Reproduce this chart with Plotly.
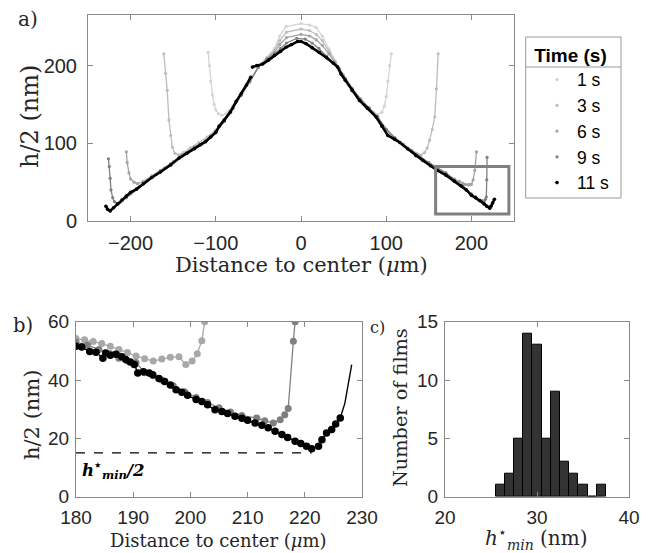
import plotly.graph_objects as go

# ---------------- Panel a data: film profiles h/2 (nm) vs distance to center (um)
times = ["1 s", "3 s", "6 s", "9 s", "11 s"]
colors = ["#d4d4d4", "#bdbdbd", "#a3a3a3", "#808080", "#000000"]

x_1s = [-109, -107.5, -106, -104, -102, -100, -97, -93, -88, -80, -70, -60, -50, -40, -31, -25,
        -17.6, 0, 10, 17.6, 25, 33, 40, 50, 60, 70, 78, 85, 90, 95, 98, 100, 102, 104, 106]
h_1s = [217, 200, 180, 162, 150, 143, 138, 136, 138, 148, 162, 178, 198, 210, 222, 238,
        250, 254, 252, 249, 238, 221, 206, 185, 168, 155, 146, 140, 137, 140, 148, 160, 180, 200, 215]

x_3s = [-161, -159, -157, -155, -153, -151, -148, -144, -138, -130, -120, -110, -100, -90, -80, -70,
        -60, -50, -40, -31, -25, -17, 0, 10, 18, 25, 33, 40, 50, 60, 70, 80, 90, 100, 110, 120,
        130, 136, 141, 145, 148, 151, 154, 157, 159, 161]
h_3s = [215, 190, 168, 130, 110, 95, 87, 85, 88, 94, 101, 108, 117, 130, 145, 162,
        180, 198, 210, 220, 232, 243, 247, 245, 240, 232, 218, 205, 188, 171, 157, 145, 133, 118, 107, 99,
        91, 87, 85, 88, 94, 104, 118, 134, 170, 215]

x_6s = [-205, -204, -202, -200, -196, -192, -185, -175, -165, -153, -140, -125, -112, -100, -90, -80,
        -70, -60, -50, -40, -31, -25, -17, 0, 10, 18, 25, 33, 40, 50, 60, 70, 80, 90, 100, 110,
        120, 130, 140, 150, 160, 170, 180, 186, 190, 193, 196, 198, 200, 202, 204, 206]
h_6s = [89, 75, 62, 54, 50, 48, 51, 58, 65, 74, 85, 95, 103, 115, 128, 145,
        162, 180, 198, 209, 217, 227, 236, 240, 238, 233, 226, 215, 204, 186, 170, 157, 146, 134, 118, 107,
        98, 90, 82, 75, 69, 62, 54, 51, 48.5, 47, 46.5, 47, 47, 53, 65, 89]

x_9s = [-226, -225, -224, -223, -221, -219, -216, -212, -205, -200, -190, -180, -170, -160, -150, -140,
        -125, -112, -100, -90, -80, -70, -60, -50, -40, -31, -24, -17, -5, 5, 13, 21, 30, 38, 45, 52,
        60, 70, 80, 90, 100, 110, 120, 130, 140, 150, 160, 170, 180, 190, 200, 205, 210, 213, 215,
        216.5, 217.5, 218, 218.4]
h_9s = [80, 70, 55, 40, 30, 25, 22.7, 24, 30, 35, 44, 52, 60, 68, 76, 83,
        95, 103, 115, 128, 145, 162, 180, 198, 208, 215, 222, 229, 235, 234, 229, 222, 212, 204, 196, 183,
        170, 156, 145, 134, 118, 107, 98, 90, 82, 75, 68, 62, 53, 45, 35, 31, 27, 26, 26,
        28, 31, 53, 82]

x_11s = [-229, -227, -224, -220, -215, -210, -205, -200, -193, -185, -175, -165, -153, -143, -134, -125,
         -118, -112, -106, -100, -96, -90, -83, -76, -70, -64, -59, None, -57, -52, -45, -38, -31, -24,
         -17.6, -11, -4, 0, 6, 13, 21.5, 30, 38, 43, 47, 52, 60, 68.6, 78, 88, 95, 102, 110, 116,
         125, 135, 143, 152, 160, 170, 180, 188, 194, 200, 205, 210, 215, 218, 221.5, 223, 225, 227]
h_11s = [19, 15, 13, 17, 22, 27, 32, 37, 41, 48, 56, 63, 72, 81, 87, 93,
         98, 102, 108, 114, 122, 130, 140, 154, 164, 175, 185, None, 198, 200, 202, 207, 213, 218,
         223.5, 227, 231, 231, 228, 223, 217, 210, 203, 198, 189, 181, 168, 155, 145, 134, 122, 110, 105, 101,
         93, 84, 78, 71, 65, 59, 51, 45, 40, 33, 30, 26, 22, 19, 16.5, 19, 23, 28]

profiles_x = [x_1s, x_3s, x_6s, x_9s, x_11s]
profiles_h = [h_1s, h_3s, h_6s, h_9s, h_11s]

# zoom window drawn in panel a
inset_x = [158, 244]
inset_y = [9, 70]

# ---------------- Panel b data: zoom near the rim
bx_6s = [180, 181.5, 183, 184.5, 186, 187.5, 189, 190.5, 192, 193.5, 195, 196.5, 198, 199.2, 200.3,
         201.2, 202, 202.5]
bh_6s = [54.2, 53.8, 53.2, 52.5, 51.6, 50.5, 49.4, 48.2, 47.3, 46.5, 47.2, 47.8, 48.0, 45.3, 46.5,
         49.0, 53.5, 60.0]

bx_9s = [180, 182, 184, 186, 187.5, 189, 190.5, 192, 193.5, 195, 197, 199, 201, 203, 205, 207, 209,
         211.6, 213, 214.5, 215.7, 216.5, 217.1, 218, 218.3]
bh_9s = [53, 52, 50.5, 49, 47.5, 46.5, 46, 42.5, 41.5, 40, 38, 36, 34, 32.3, 30.5, 29, 27.8,
         27, 26, 25.3, 26.4, 28.1, 30.2, 53.3, 60]

bx_11s = [180, 181, 182.4, 183.5, 184.7, 185.2, 186, 187, 188, 188.7, 189.5, 190.2, 190.8, 191.8, 192.8,
          193.4, 194.5, 195.5, 196.5, 197.5, 198.5, 199.5, 201, 202, 203, 204.3, 205.5, 206.5, 207.8,
          209, 210, 211.3, 212.5, 213.6, 214.8, 216, 217, 218.3, 219.3, 220.3, 221.2, 222.4, 223,
          223.8, 224.7, 225.4, 226.2, 227, 228.2]
bh_11s = [51.6, 51.3, 49.8, 49.5, 47.5, 49.3, 48.5, 48.8, 48, 47, 46.2, 45.3, 42.4, 42.8, 42.4,
          41.8, 40.5, 39.5, 38.3, 36.7, 35.8, 34.8, 33.3, 32.6, 31.5, 29.8, 29.2, 28.5, 27.6,
          26.9, 26.2, 25.3, 24.5, 23.6, 22.4, 21.3, 20.3, 19.0, 18.2, 17.3, 16.4, 17.3, 19.5,
          21.8, 23.0, 24.9, 27.0, 32, 45.3]

hmin_half = 15
hmin_x = [180, 221.2]

# ---------------- Panel c data: histogram of h*_min
hist_centers = [26, 27, 28, 29, 30, 31, 32, 33, 34, 35, 36, 37]
hist_counts = [1, 2, 5, 14, 13, 5, 9, 3, 2, 1, 0, 1]

# ---------------- Figure geometry (page has an 8 px body margin)
OFF = 8
W, H = 650 - OFF, 553 - OFF


def px(x):
    return (x - OFF) / W


def py(y):
    return 1 - (y - OFF) / H


TICK_A = dict(family="Liberation Sans, Arial", size=20, color="#262626")
TICK_B = dict(family="Liberation Sans, Arial", size=19, color="#262626")
SERIF = "DejaVu Serif, serif"
AXCOL = "#8a8a8a"

fig = go.Figure()

# Panel a
for name, col, xs, hs in zip(times, colors, profiles_x, profiles_h):
    lw = 2.6 if col == "#000000" else 1.3
    fig.add_trace(go.Scatter(x=xs, y=hs, mode="lines", line=dict(color=col, width=lw),
                             showlegend=False, connectgaps=False,
                             xaxis="x", yaxis="y", hoverinfo="skip"))
    fig.add_trace(go.Scatter(x=xs, y=hs, mode="markers", name=name,
                             marker=dict(color=col, size=3.2 if col != "#000000" else 3.6),
                             xaxis="x", yaxis="y"))

fig.add_shape(type="rect", xref="x", yref="y", x0=inset_x[0], x1=inset_x[1], y0=inset_y[0], y1=inset_y[1],
              line=dict(color="#808080", width=3))

# Panel b
fig.add_trace(go.Scatter(x=bx_6s, y=bh_6s, mode="lines+markers", line=dict(color="#a8a8a8", width=1.3),
                         marker=dict(color="#a8a8a8", size=7), showlegend=False, xaxis="x2", yaxis="y2"))
fig.add_trace(go.Scatter(x=bx_9s, y=bh_9s, mode="lines+markers", line=dict(color="#7f7f7f", width=1.3),
                         marker=dict(color="#7f7f7f", size=7), showlegend=False, xaxis="x2", yaxis="y2"))
fig.add_trace(go.Scatter(x=bx_11s, y=bh_11s, mode="lines", line=dict(color="#000000", width=1.4),
                         showlegend=False, xaxis="x2", yaxis="y2"))
fig.add_trace(go.Scatter(x=bx_11s[:-2], y=bh_11s[:-2], mode="markers",
                         marker=dict(color="#000000", size=7.5), showlegend=False, xaxis="x2", yaxis="y2"))
fig.add_trace(go.Scatter(x=hmin_x, y=[hmin_half, hmin_half], mode="lines",
                         line=dict(color="#000000", width=1.3, dash="dash"), showlegend=False,
                         xaxis="x2", yaxis="y2"))

# Panel c
fig.add_trace(go.Bar(x=hist_centers, y=hist_counts, width=1, marker=dict(color="#333333",
                     line=dict(color="#000000", width=1)), showlegend=False, xaxis="x3", yaxis="y3"))

ax_common = dict(showgrid=False, zeroline=False, showline=True, linecolor=AXCOL, linewidth=1,
                 mirror="ticks", ticks="inside", ticklen=5, tickcolor=AXCOL, automargin=False)

fig.update_layout(
    width=W, height=H, margin=dict(l=0, r=0, t=0, b=0, autoexpand=False),
    paper_bgcolor="white", plot_bgcolor="white",
    xaxis=dict(domain=[px(88), px(514)], range=[-250, 250], tickvals=[-200, -100, 0, 100, 200],
               anchor="y", ticklabelstandoff=4, tickfont=TICK_A, **ax_common),
    yaxis=dict(domain=[py(221), py(15)], range=[0, 265], tickvals=[0, 100, 200], anchor="x",
               ticklabelstandoff=6, tickfont=TICK_A, **ax_common),
    xaxis2=dict(domain=[px(76), px(362)], range=[180, 230], tickvals=[180, 190, 200, 210, 220, 230],
                anchor="y2", ticklabelstandoff=3, tickfont=TICK_B, **ax_common),
    yaxis2=dict(domain=[py(496.7), py(321.7)], range=[0, 60], tickvals=[0, 20, 40, 60], anchor="x2",
                ticklabelstandoff=2, tickfont=TICK_B, **ax_common),
    xaxis3=dict(domain=[px(445), px(629)], range=[20, 40], tickvals=[20, 30, 40], anchor="y3",
                ticklabelstandoff=3, tickfont=TICK_B, **ax_common),
    yaxis3=dict(domain=[py(496.7), py(321.7)], range=[0, 15], tickvals=[0, 5, 10, 15], anchor="x3",
                ticklabelstandoff=2, tickfont=TICK_B, **ax_common),
    legend=dict(x=px(526), y=py(37), xanchor="left", yanchor="top", bgcolor="rgba(0,0,0,0)",
                borderwidth=0, tracegroupgap=0,
                font=dict(family="Liberation Sans, Arial", size=17.5, color="#000000"),
                title=dict(text="<b>Time (s)</b>", side="top center",
                           font=dict(family="Liberation Sans, Arial", size=19, color="#000000")),
                indentation=11),
    bargap=0,
)

# legend frame and separator under the legend title
fig.add_shape(type="rect", xref="paper", yref="paper", x0=px(525.7), x1=px(621), y0=py(198), y1=py(37),
              line=dict(color="#999999", width=1), fillcolor="white", layer="below")
fig.add_shape(type="line", xref="paper", yref="paper", x0=px(525.7), x1=px(621), y0=py(67), y1=py(67),
              line=dict(color="#999999", width=1))

ann = []


def label(text, x, y, size, angle=0, family=SERIF, xanchor="center", color="#262626"):
    ann.append(dict(text=text, x=px(x), y=py(y), xref="paper", yref="paper", showarrow=False,
                    textangle=angle, xanchor=xanchor, yanchor="middle",
                    font=dict(family=family, size=size, color=color)))


label("a)", 28, 19, 20)
label("b)", 23, 325, 19.5)
label("c)", 378, 327, 16)
label("Distance to center (<i>μ</i>m)", 301, 265, 21)
label("h/2 (nm)", 30, 116, 24, angle=-90)
label("Distance to center (<i>μ</i>m)", 218, 540, 18)
label("h/2 (nm)", 32, 415, 21, angle=-90)
label("Number of films", 400, 408, 19.3, angle=-90)
label("<i>h</i><sup>⋆</sup><sub><i>min</i></sub> (nm)", 536, 538, 20)
label("<b><i>h</i><sup>⋆</sup><sub><i>min</i></sub><i>/2</i></b>", 80, 470, 16.5, xanchor="left",
      color="#000000")

fig.update_layout(annotations=ann)

fig.write_html("out.html")
